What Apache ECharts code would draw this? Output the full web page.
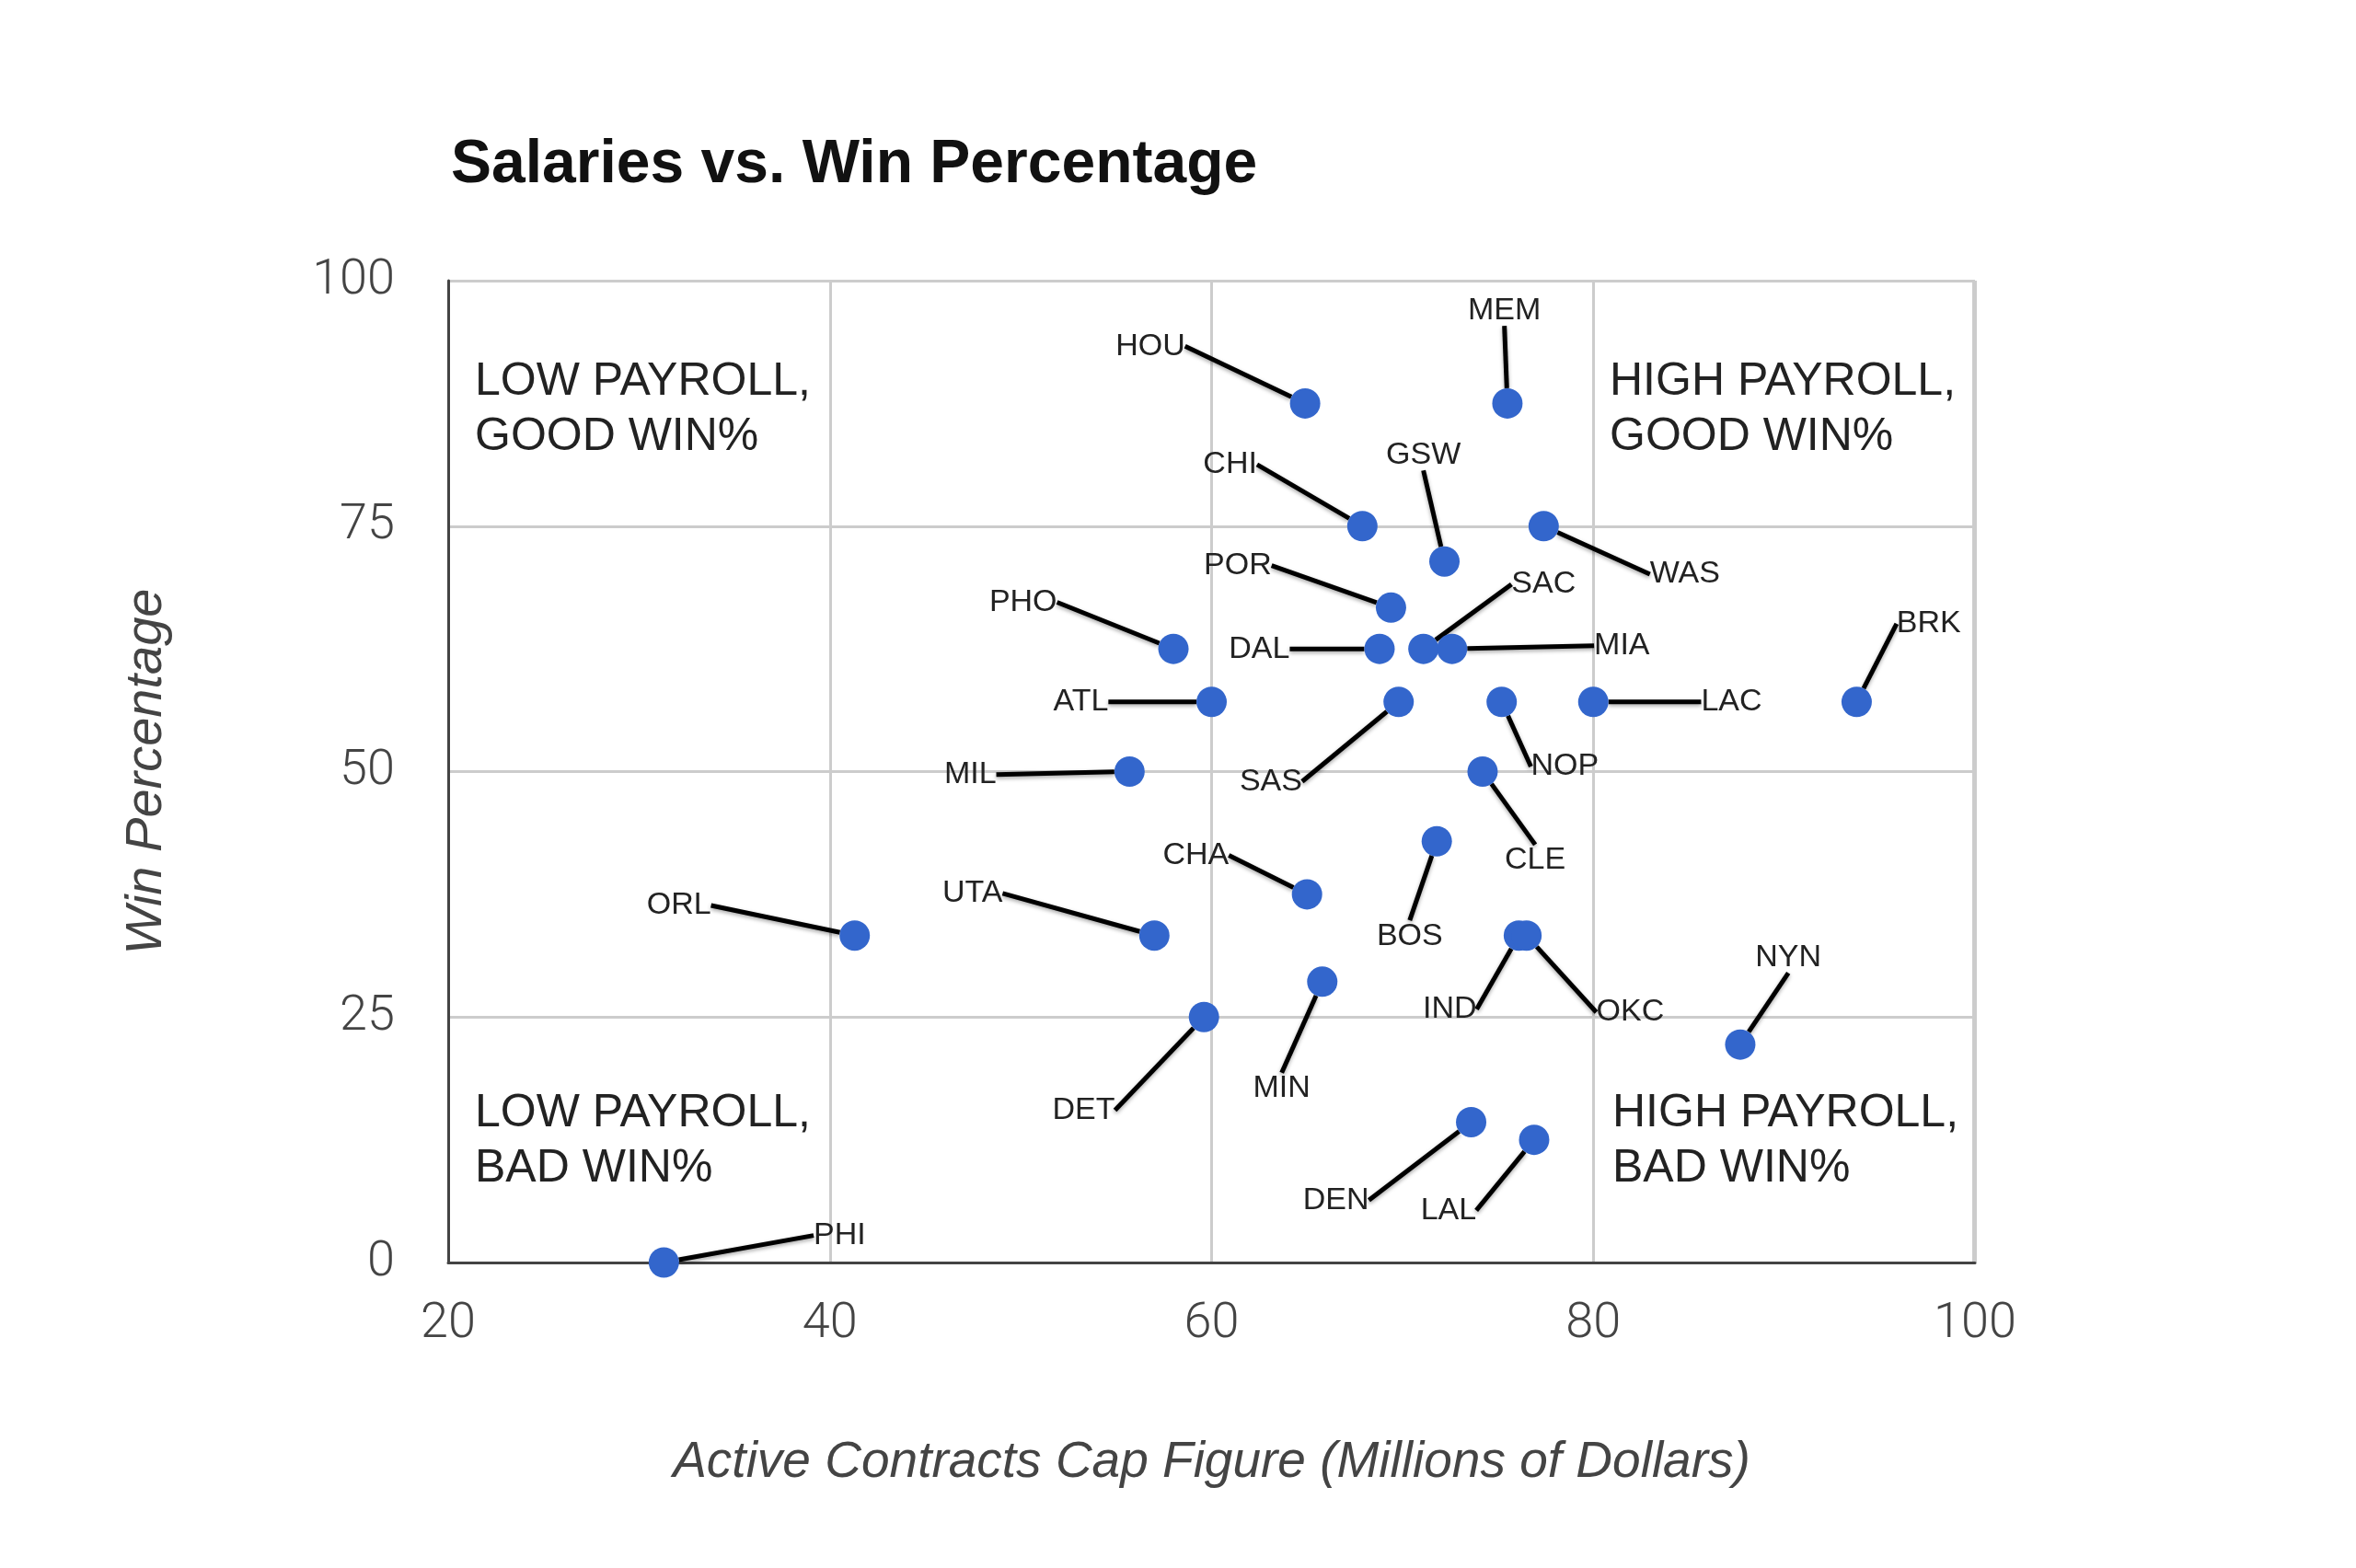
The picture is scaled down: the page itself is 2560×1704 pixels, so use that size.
<!DOCTYPE html>
<html>
<head>
<meta charset="utf-8">
<script src="https://cdn.jsdelivr.net/npm/echarts@6/dist/echarts.min.js"></script>
<style>
  html, body { margin: 0; padding: 0; background: #fff; }
  #main { width: 2560px; height: 1704px; }
</style>
</head>
<body>
<div id="main"></div>
<script>
var chartDom = document.getElementById('main');
var myChart = echarts.init(chartDom);
var option;

// teams, cap figure (millions) and win percentage
const teams = ['HOU', 'MEM', 'CHI', 'GSW', 'WAS', 'POR', 'SAC', 'PHO', 'DAL', 'MIA',
    'BRK', 'ATL', 'LAC', 'NOP', 'SAS', 'MIL', 'CLE', 'CHA', 'BOS', 'ORL',
    'UTA', 'IND', 'OKC', 'NYN', 'MIN', 'DET', 'DEN', 'LAL', 'PHI'];
const payroll = [64.9, 75.5, 67.9, 72.2, 77.4, 69.4, 71.1, 58.0, 68.8, 72.6,
    93.8, 60.0, 80.0, 75.2, 69.8, 55.7, 74.2, 65.0, 71.8, 41.3,
    57.0, 76.1, 76.5, 87.7, 65.8, 59.6, 73.6, 76.9, 31.3];
const winPct = [87.5, 87.5, 75.0, 71.4, 75.0, 66.7, 62.5, 62.5, 62.5, 62.5,
    57.1, 57.1, 57.1, 57.1, 57.1, 50.0, 50.0, 37.5, 42.9, 33.3,
    33.3, 33.3, 33.3, 22.2, 28.6, 25.0, 14.3, 12.5, 0];

const xTicks = { min: 20, max: 100, interval: 20 };
const yTicks = { min: 0, max: 100, interval: 25 };

const quadrantText = [
    'LOW PAYROLL,\nGOOD WIN%',
    'HIGH PAYROLL,\nGOOD WIN%',
    'LOW PAYROLL,\nBAD WIN%',
    'HIGH PAYROLL,\nBAD WIN%'
];

// where each team label sits relative to its dot (px, before scaling)
const labelOffsets = {
    HOU: [-103, -38], MEM: [-2, -62], CHI: [-88, -41], GSW: [-14, -71],
    WAS: [94, 32], POR: [-102, -28], SAC: [80, -43], PHO: [-100, -31],
    DAL: [-80, 0], MIA: [113, -2], BRK: [48, -52], ATL: [-87, 0],
    LAC: [92, 0], NOP: [42, 43], SAS: [-85, 53], MIL: [-106, 2],
    CLE: [35, 59], CHA: [-74, -26], BOS: [-18, 63], ORL: [-117, -20],
    UTA: [-121, -28], IND: [-46, 49], OKC: [69, 51], NYN: [32, -58],
    MIN: [-27, 71], DET: [-80, 62], DEN: [-90, 52], LAL: [-57, 47],
    PHI: [117, -18]
};
const k = 1.633;

const points = teams.map(function (t, i) {
    return { name: t, value: [payroll[i], winPct[i]] };
});

const quadStyle = {
    fontFamily: 'Liberation Sans',
    fontSize: 50,
    lineHeight: 60,
    fill: '#222'
};

option = {
    backgroundColor: '#fff',
    title: {
        text: 'Salaries vs. Win Percentage',
        left: 485,
        top: 142,
        textStyle: {
            fontFamily: 'Liberation Sans',
            fontWeight: 'bold',
            fontSize: 66,
            color: '#111'
        }
    },
    grid: {
        left: 487,
        right: 414,
        top: 305,
        bottom: 332
    },
    xAxis: {
        type: 'value',
        min: xTicks.min,
        max: xTicks.max,
        interval: xTicks.interval,
        name: 'Active Contracts Cap Figure (Millions of Dollars)',
        nameLocation: 'middle',
        nameGap: 190,
        nameTextStyle: {
            fontFamily: 'Liberation Sans',
            fontStyle: 'italic',
            fontSize: 55,
            color: '#444'
        },
        axisLine: { lineStyle: { color: '#444', width: 3 } },
        axisTick: { show: false },
        axisLabel: {
            margin: 40,
            fontFamily: 'Roboto',
            fontWeight: 300,
            fontSize: 54,
            color: '#444'
        },
        splitLine: { lineStyle: { color: '#cccccc', width: 3 } }
    },
    yAxis: {
        type: 'value',
        min: yTicks.min,
        max: yTicks.max,
        interval: yTicks.interval,
        name: 'Win Percentage',
        nameLocation: 'middle',
        nameGap: 300,
        nameTextStyle: {
            fontFamily: 'Liberation Sans',
            fontStyle: 'italic',
            fontSize: 56,
            color: '#444'
        },
        axisLine: { show: true, lineStyle: { color: '#444', width: 3 } },
        axisTick: { show: false },
        axisLabel: {
            margin: 58,
            fontFamily: 'Roboto',
            fontWeight: 300,
            fontSize: 54,
            color: '#444'
        },
        splitLine: { lineStyle: { color: '#cccccc', width: 3 } }
    },
    graphic: [
        { type: 'rect', right: 414, top: 305, shape: { width: 3, height: 1067 }, style: { fill: '#cccccc' } },
        { type: 'text', left: 516, top: 385, style: Object.assign({ text: quadrantText[0] }, quadStyle) },
        { type: 'text', left: 1749, top: 385, style: Object.assign({ text: quadrantText[1] }, quadStyle) },
        { type: 'text', left: 516, top: 1180, style: Object.assign({ text: quadrantText[2] }, quadStyle) },
        { type: 'text', left: 1752, top: 1180, style: Object.assign({ text: quadrantText[3] }, quadStyle) }
    ],
    series: [
        {
            name: 'Teams',
            type: 'scatter',
            symbolSize: 33,
            itemStyle: { color: '#3366cc', opacity: 1 },
            data: points,
            label: {
                show: true,
                position: 'inside',
                formatter: '{b}',
                fontFamily: 'Liberation Sans',
                fontSize: 34,
                color: '#222'
            },
            labelLine: {
                show: true,
                lineStyle: {
                    color: '#000',
                    width: 5,
                    shadowColor: 'rgba(0,0,0,0.35)',
                    shadowBlur: 4,
                    shadowOffsetY: 2
                }
            },
            labelLayout: function (params) {
                var off = labelOffsets[teams[params.dataIndex]] || [0, -40];
                return { dx: off[0] * k, dy: off[1] * k };
            },
            z: 3
        }
    ]
};

option && myChart.setOption(option);
</script>
</body>
</html>
